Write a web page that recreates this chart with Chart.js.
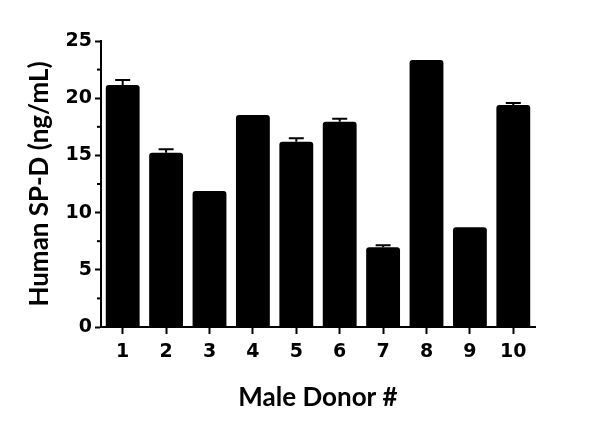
<!DOCTYPE html>
<html>
<head>
<meta charset="utf-8">
<script src="https://cdn.jsdelivr.net/npm/chart.js@4.4.1/dist/chart.umd.min.js"></script>
<style>
  html, body { margin: 0; padding: 0; background: #fff; }
  #wrap { width: 600px; height: 426px; position: relative; }
</style>
</head>
<body>
<div id="wrap"><canvas id="chart"></canvas></div>
<script>
// donors on the x axis
const donors = ['1', '2', '3', '4', '5', '6', '7', '8', '9', '10'];
// mean SP-D level per donor (ng/mL)
const spdValues = [21.15, 15.24, 11.89, 18.53, 16.2, 17.95, 6.97, 23.34, 8.71, 19.41];
// upper error (SD) per donor
const spdErrors = [0.45, 0.3, 0, 0, 0.3, 0.25, 0.18, 0, 0, 0.17];
// y axis ticks
const yMajorTicks = [0, 5, 10, 15, 20, 25];
const yMinorTicks = [2.5, 7.5, 12.5, 17.5, 22.5];

const titleFont = { family: 'Lato', size: 26, weight: 'bold' };
const tickFont = { family: 'DejaVu Sans', size: 19, weight: 'bold' };

// minor ticks on the y axis + upward error bars
const extrasPlugin = {
    id: 'extras',
    afterDatasetsDraw(chart) {
        const ctx = chart.ctx;
        const y = chart.scales.y;
        ctx.save();
        ctx.strokeStyle = '#000';
        ctx.lineWidth = 2;
        yMinorTicks.forEach(v => {
            const py = y.getPixelForValue(v);
            ctx.beginPath();
            ctx.moveTo(y.right - 4, py);
            ctx.lineTo(y.right, py);
            ctx.stroke();
        });
        const meta = chart.getDatasetMeta(0);
        meta.data.forEach((bar, i) => {
            if (!spdErrors[i]) return;
            const top = y.getPixelForValue(spdValues[i] + spdErrors[i]);
            const base = y.getPixelForValue(spdValues[i]);
            ctx.beginPath();
            ctx.moveTo(bar.x, base);
            ctx.lineTo(bar.x, top);
            ctx.moveTo(bar.x - 7.5, top);
            ctx.lineTo(bar.x + 7.5, top);
            ctx.stroke();
        });
        ctx.restore();
    }
};

new Chart(document.getElementById('chart'), {
    type: 'bar',
    data: {
        labels: donors,
        datasets: [{
            data: spdValues,
            backgroundColor: '#000',
            borderColor: '#000',
            borderWidth: 0,
            borderRadius: 3,
            borderSkipped: 'bottom',
            barPercentage: 0.78,
            categoryPercentage: 1.0
        }]
    },
    options: {
        responsive: true,
        maintainAspectRatio: false,
        animation: false,
        layout: { padding: { left: 0, top: 41, right: 65, bottom: 0 } },
        plugins: {
            legend: { display: false },
            tooltip: { enabled: false }
        },
        scales: {
            x: {
                offset: true,
                border: { display: true, color: '#000', width: 2 },
                grid: {
                    drawOnChartArea: false,
                    tickLength: 7,
                    tickWidth: 2,
                    tickColor: '#000',
                    offset: false
                },
                ticks: { color: '#000', font: tickFont, padding: 7, maxRotation: 0 },
                title: {
                    display: true,
                    text: 'Male Donor #',
                    color: '#000',
                    font: titleFont,
                    padding: { top: 0, bottom: 13 }
                },
                afterFit(scale) { scale.height = 99; }
            },
            y: {
                min: 0,
                max: 25,
                afterBuildTicks(scale) {
                    scale.ticks = yMajorTicks.map(v => ({ value: v }));
                },
                border: { display: true, color: '#000', width: 2 },
                grid: {
                    drawOnChartArea: false,
                    tickLength: 6,
                    tickWidth: 2,
                    tickColor: '#000'
                },
                ticks: { color: '#000', font: tickFont, padding: 3 },
                title: {
                    display: true,
                    text: 'Human SP-D (ng/mL)',
                    color: '#000',
                    font: titleFont,
                    padding: { top: 24, bottom: 0 }
                },
                afterFit(scale) { scale.width = 101; }
            }
        }
    },
    plugins: [extrasPlugin]
});
</script>
</body>
</html>
